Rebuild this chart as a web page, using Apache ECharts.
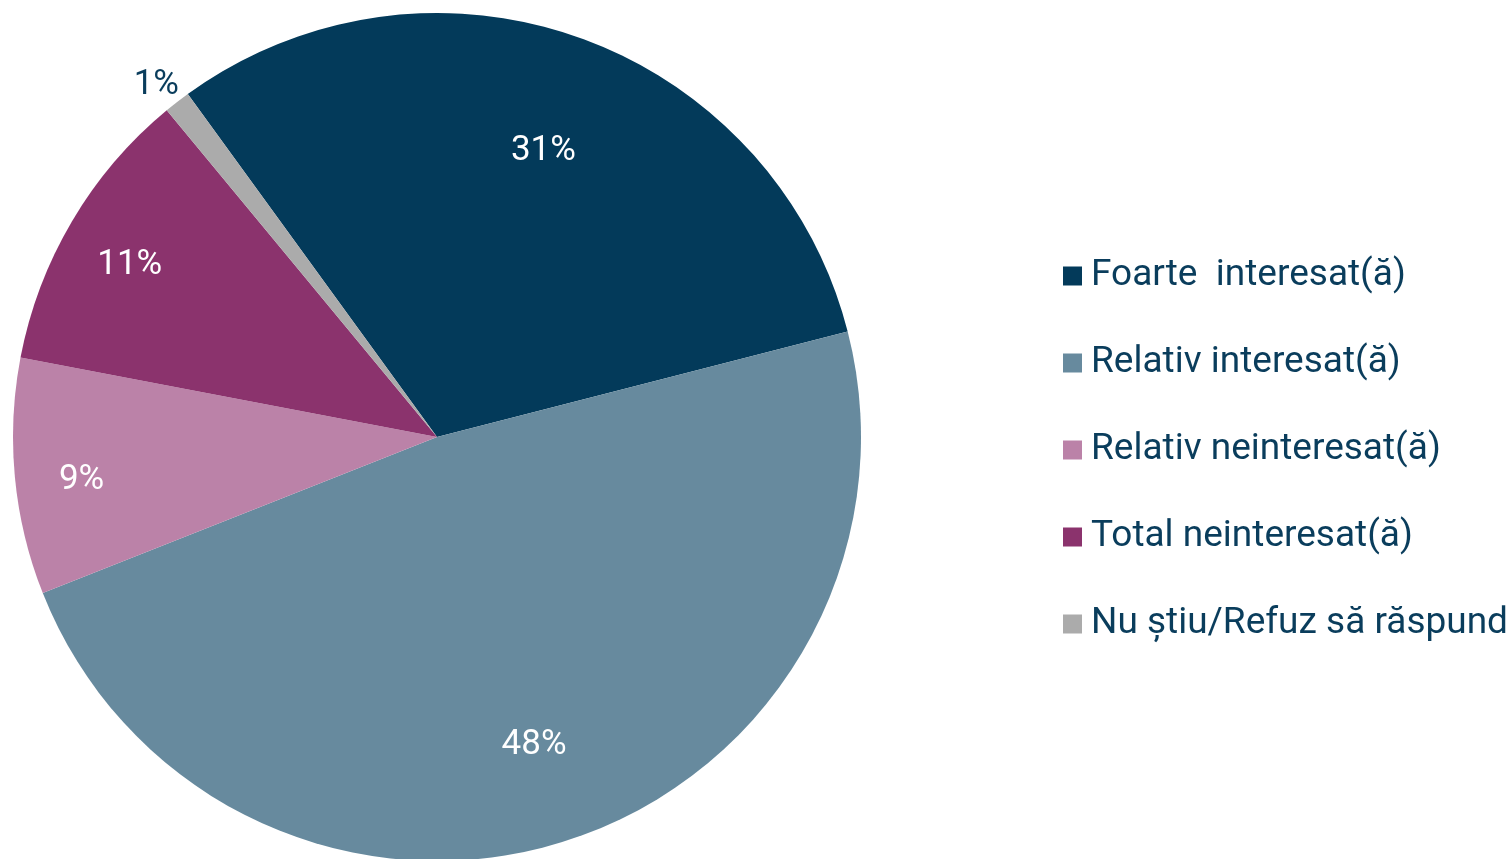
<!DOCTYPE html>
<html>
<head>
<meta charset="utf-8">
<script src="https://cdn.jsdelivr.net/npm/echarts@6/dist/echarts.min.js"></script>
<style>
  html, body { margin: 0; padding: 0; background: #fff; }
  #chart { width: 1511px; height: 859px; }
</style>
</head>
<body>
<div id="chart"></div>
<script>
  // categories and values (percent)
  var categories = ['Foarte  interesat(ă)', 'Relativ interesat(ă)', 'Relativ neinteresat(ă)', 'Total neinteresat(ă)', 'Nu știu/Refuz să răspund'];
  var values = [31, 48, 9, 11, 1];
  var colors = ['#033A5A', '#678A9E', '#BB82A8', '#8B336D', '#ABABAB'];

  var textColor = '#0A3D5C';

  var pieData = categories.map(function (name, i) {
    return { name: name, value: values[i], itemStyle: { color: colors[i] } };
  });

  // size group of a slice, decides where its % label sits
  function group(v) {
    if (v >= 20) return 'big';
    if (v >= 3) return 'small';
    return 'tiny';
  }

  // transparent copies of the pie, only used to place the % labels
  function labelSeries(inner, outer, g) {
    return {
      type: 'pie',
      center: [437, 437],
      radius: [inner, outer],
      startAngle: 126,
      clockwise: true,
      silent: true,
      itemStyle: { color: 'rgba(0,0,0,0)', borderWidth: 0 },
      label: {
        position: 'inside',
        formatter: '{c}%',
        fontFamily: 'Roboto',
        fontSize: 35,
        offset: [0, 10],
        color: g === 'tiny' ? textColor : '#fff'
      },
      labelLine: { show: false },
      data: categories.map(function (name, i) {
        return { name: name, value: values[i], label: { show: group(values[i]) === g } };
      })
    };
  }

  var myChart = echarts.init(document.getElementById('chart'));
  var option = {
    animation: false,
    legend: {
      orient: 'vertical',
      left: 1058,
      top: 251,
      itemWidth: 19,
      itemHeight: 19,
      itemGap: 47,
      icon: 'rect',
      data: categories,
      textStyle: {
        fontFamily: 'Roboto',
        fontSize: 37,
        lineHeight: 40,
        color: textColor,
        padding: [0, 0, 0, 4]
      }
    },
    series: [
      {
        type: 'pie',
        center: [437, 437],
        radius: [0, 424],
        startAngle: 126,
        clockwise: true,
        silent: true,
        label: { show: false },
        labelLine: { show: false },
        itemStyle: { borderWidth: 0 },
        data: pieData
      },
      labelSeries(198, 424, 'big'),
      labelSeries(284, 424, 'small'),
      labelSeries(434, 476, 'tiny')
    ]
  };
  myChart.setOption(option);
</script>
</body>
</html>
